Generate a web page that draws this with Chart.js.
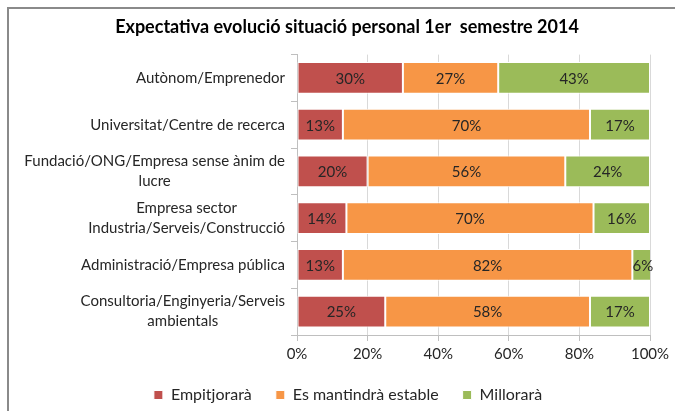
<!DOCTYPE html>
<html>
<head>
<meta charset="utf-8">
<script src="https://cdn.jsdelivr.net/npm/chart.js@4/dist/chart.umd.min.js"></script>
<style>
html,body{margin:0;padding:0;background:#fff;}
#wrap{position:relative;width:675px;height:411px;overflow:hidden;}
#frame{position:absolute;left:7px;top:7px;width:700px;height:420px;border-left:2px solid #8a8a8a;border-top:2px solid #8a8a8a;}
canvas{position:absolute;left:0;top:0;}
</style>
</head>
<body>
<div id="wrap"><div id="frame"></div><canvas id="c" width="675" height="411"></canvas></div>
<script>
const chartTitle = 'Expectativa evolució situació personal 1er  semestre 2014';
const categories = [
  ['Autònom/Emprenedor'],
  ['Universitat/Centre de recerca'],
  ['Fundació/ONG/Empresa sense ànim de', 'lucre'],
  ['Empresa sector', 'Industria/Serveis/Construcció'],
  ['Administració/Empresa pública'],
  ['Consultoria/Enginyeria/Serveis', 'ambientals']
];
const seriesNames = ['Empitjorarà', 'Es mantindrà estable', 'Millorarà'];
const empitjorara = [30, 13, 20, 14, 13, 25];
const mantindra = [27, 70, 56, 70, 82, 58];
const millorara = [43, 17, 24, 16, 6, 17];
const xTicks = [0, 20, 40, 60, 80, 100];
const colors = ['#C0504D', '#F79646', '#9BBB59'];

const FONT = 'Lato, "Open Sans", sans-serif';
const TXT = '#262626';

const dataLabelPlugin = {
  id: 'dataLabels',
  afterDatasetsDraw(chart) {
    const ctx = chart.ctx;
    ctx.save();
    ctx.font = '15px ' + FONT;
    ctx.fillStyle = TXT;
    ctx.textAlign = 'center';
    ctx.textBaseline = 'middle';
    chart.data.datasets.forEach((ds, di) => {
      const meta = chart.getDatasetMeta(di);
      meta.data.forEach((el, i) => {
        const v = ds.data[i];
        ctx.fillText(v + '%', (el.x + el.base) / 2, el.y + 1);
      });
    });
    ctx.restore();
  }
};

const yLabelPlugin = {
  id: 'yLabels',
  afterDraw(chart) {
    const ys = chart.scales.y;
    const ctx = chart.ctx;
    ctx.save();
    ctx.font = '15px ' + FONT;
    ctx.fillStyle = TXT;
    ctx.textAlign = 'center';
    ctx.textBaseline = 'middle';
    const rightEdge = ys.right - 12;
    const lh = 20;
    categories.forEach((lines, i) => {
      const yc = ys.getPixelForValue(i);
      let maxW = 0;
      lines.forEach(l => { maxW = Math.max(maxW, ctx.measureText(l).width); });
      const cx = rightEdge - maxW / 2;
      const y0 = yc - (lines.length - 1) * lh / 2;
      lines.forEach((l, k) => ctx.fillText(l, cx, y0 + k * lh));
    });
    ctx.restore();
  }
};

const shiftPlugin = {
  id: 'shift',
  afterLayout(chart) {
    const lg = chart.legend;
    lg.left += 18; lg.right += 18;
    const tb = chart.titleBlock;
    tb.left += 17; tb.right += 17;
  }
};

new Chart(document.getElementById('c'), {
  type: 'bar',
  data: {
    labels: categories,
    datasets: [
      { label: seriesNames[0], data: empitjorara, backgroundColor: colors[0] },
      { label: seriesNames[1], data: mantindra, backgroundColor: colors[1] },
      { label: seriesNames[2], data: millorara, backgroundColor: colors[2] }
    ].map(d => Object.assign(d, { borderColor: '#ffffff', borderWidth: 1, borderSkipped: false, categoryPercentage: 0.68, barPercentage: 1 }))
  },
  options: {
    indexAxis: 'y',
    responsive: false,
    animation: false,
    layout: { padding: { left: 10, right: 25, top: 6, bottom: -2 } },
    scales: {
      x: {
        stacked: true,
        min: 0, max: 100,
        afterBuildTicks(scale) { scale.ticks = xTicks.map(v => ({ value: v })); },
        afterFit(scale) { scale.height = 28; },
        ticks: { callback: v => v + '%', color: TXT, font: { family: FONT, size: 15 }, padding: 4 },
        grid: { color: '#d9d9d9', tickLength: 6, tickColor: '#bfbfbf' },
        border: { color: '#bfbfbf' }
      },
      y: {
        stacked: true,
        afterFit(scale) { scale.width = 287; },
        ticks: { color: 'rgba(0,0,0,0)', font: { family: FONT, size: 15 } },
        grid: { drawOnChartArea: false, tickLength: 6, tickColor: '#bfbfbf', offset: true },
        border: { color: '#bfbfbf' }
      }
    },
    plugins: {
      title: {
        display: true,
        text: chartTitle,
        color: '#000',
        font: { family: FONT, size: 18, weight: 'bold' },
        padding: { top: 10, bottom: 17 }
      },
      legend: {
        position: 'bottom',
        labels: { boxWidth: 9, boxHeight: 9, color: TXT, font: { family: FONT, size: 16 }, padding: 24 }
      },
      tooltip: { enabled: false }
    }
  },
  plugins: [dataLabelPlugin, yLabelPlugin, shiftPlugin]
});
</script>
</body>
</html>
